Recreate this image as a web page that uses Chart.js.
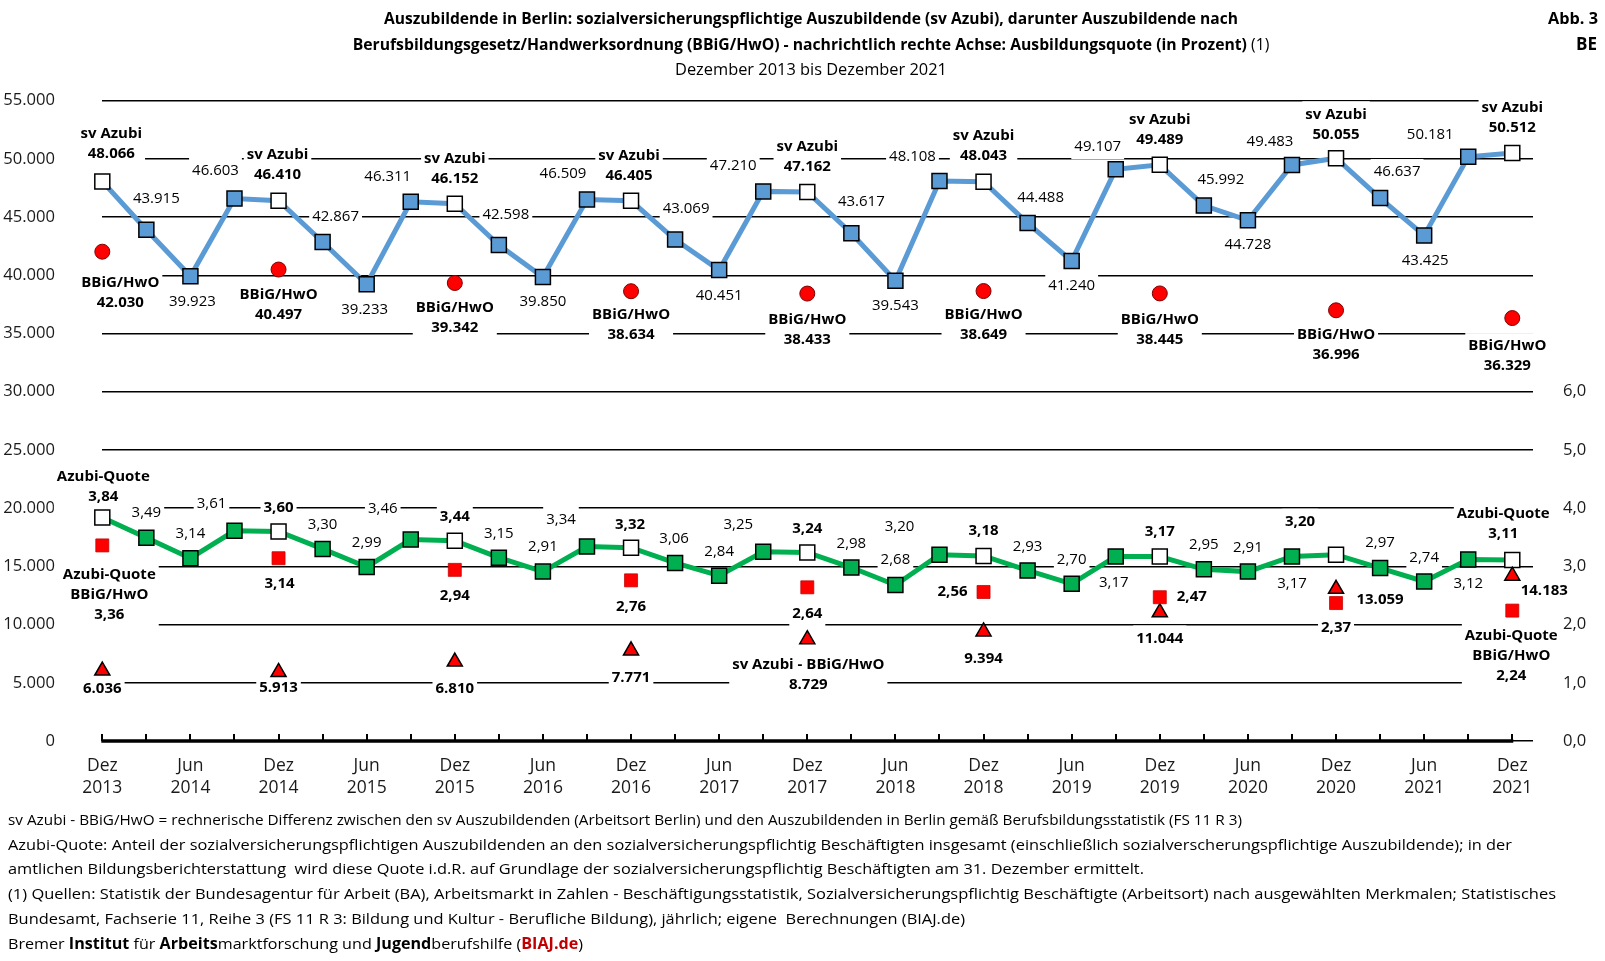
<!DOCTYPE html>
<html lang="de">
<head>
<meta charset="utf-8">
<title>Auszubildende in Berlin</title>
<script src="https://cdn.jsdelivr.net/npm/chart.js@4.4.1/dist/chart.umd.min.js"></script>
<style>
  html,body{margin:0;padding:0;background:#fff;}
  #wrap{position:relative;width:1605px;height:961px;overflow:hidden;font-family:"Open Sans",sans-serif;color:#000;}
  #c{position:absolute;left:0;top:0;}
  .fit{position:absolute;white-space:pre;line-height:24px;}
  .b{font-weight:700;}
</style>
</head>
<body>
<div id="wrap">
  <canvas id="c" width="1605" height="961"></canvas>

  <div class="fit b" data-fs="15" data-w="855" data-cx="811" data-cy="18.4">Auszubildende in Berlin: sozialversicherungspflichtige Auszubildende (sv Azubi), darunter Auszubildende nach</div>
  <div class="fit" data-fs="15" data-w="917" data-cx="811" data-cy="44"><b>Berufsbildungsgesetz/Handwerksordnung (BBiG/HwO) - nachrichtlich rechte Achse: Ausbildungsquote (in Prozent)</b> (1)</div>
  <div class="fit" data-fs="15" data-w="272" data-cx="811" data-cy="68.6">Dezember 2013 bis Dezember 2021</div>
  <div class="fit b" data-fs="15" data-w="50" data-rx="1598" data-cy="18.4">Abb. 3</div>
  <div class="fit b" data-fs="15" data-w="21" data-rx="1597" data-cy="44">BE</div>

  <div class="fit" data-fs="15.3" data-scale="1" data-w="1234" data-x="8" data-cy="819">sv Azubi - BBiG/HwO = rechnerische Differenz zwischen den sv Auszubildenden (Arbeitsort Berlin) und den Auszubildenden in Berlin gemäß Berufsbildungsstatistik (FS 11 R 3)</div>
  <div class="fit" data-fs="15.3" data-scale="1" data-w="1504" data-x="8" data-cy="843.5">Azubi-Quote: Anteil der sozialversicherungspflichtigen Auszubildenden an den sozialversicherungspflichtig Beschäftigten insgesamt (einschließlich sozialverscherungspflichtige Auszubildende); in der</div>
  <div class="fit" data-fs="15.3" data-scale="1" data-w="1136" data-x="8" data-cy="868">amtlichen Bildungsberichterstattung  wird diese Quote i.d.R. auf Grundlage der sozialversicherungspflichtig Beschäftigten am 31. Dezember ermittelt.</div>
  <div class="fit" data-fs="15.3" data-scale="1" data-w="1548" data-x="8" data-cy="893">(1) Quellen: Statistik der Bundesagentur für Arbeit (BA), Arbeitsmarkt in Zahlen - Beschäftigungsstatistik, Sozialversicherungspflichtig Beschäftigte (Arbeitsort) nach ausgewählten Merkmalen; Statistisches</div>
  <div class="fit" data-fs="15.3" data-scale="1" data-w="957" data-x="8" data-cy="918">Bundesamt, Fachserie 11, Reihe 3 (FS 11 R 3: Bildung und Kultur - Berufliche Bildung), jährlich; eigene  Berechnungen (BIAJ.de)</div>
  <div class="fit" data-fs="15.3" data-scale="1" data-w="575" data-x="8" data-cy="943">Bremer <b>Institut</b> für <b>Arbeits</b>marktforschung und <b>Jugend</b>berufshilfe (<b style="color:#C00000">BIAJ.de</b>)</div>
</div>

<script>
// ---------------- data ----------------
const quarters = ['Dez 2013','Mrz 2014','Jun 2014','Sep 2014','Dez 2014','Mrz 2015','Jun 2015','Sep 2015',
  'Dez 2015','Mrz 2016','Jun 2016','Sep 2016','Dez 2016','Mrz 2017','Jun 2017','Sep 2017',
  'Dez 2017','Mrz 2018','Jun 2018','Sep 2018','Dez 2018','Mrz 2019','Jun 2019','Sep 2019',
  'Dez 2019','Mrz 2020','Jun 2020','Sep 2020','Dez 2020','Mrz 2021','Jun 2021','Sep 2021','Dez 2021'];

const tickLabels = [['Dez','2013'],['Jun','2014'],['Dez','2014'],['Jun','2015'],['Dez','2015'],['Jun','2016'],
  ['Dez','2016'],['Jun','2017'],['Dez','2017'],['Jun','2018'],['Dez','2018'],['Jun','2019'],
  ['Dez','2019'],['Jun','2020'],['Dez','2020'],['Jun','2021'],['Dez','2021']];

// sozialversicherungspflichtige Auszubildende (quarterly)
const svAzubi = [48066,43915,39923,46603,46410,42867,39233,46311,46152,42598,39850,46509,46405,43069,40451,47210,
  47162,43617,39543,48108,48043,44488,41240,49107,49489,45992,44728,49483,50055,46637,43425,50181,50512];

// Azubi-Quote in % (quarterly, right axis)
const azubiQuote = [3.84,3.49,3.14,3.61,3.60,3.30,2.99,3.46,3.44,3.15,2.91,3.34,3.32,3.06,2.84,3.25,
  3.24,2.98,2.68,3.20,3.18,2.93,2.70,3.17,3.17,2.95,2.91,3.17,3.20,2.97,2.74,3.12,3.11];

// December values only (Dez 2013 ... Dez 2021)
const bbigDez = [42030,40497,39342,38634,38433,38649,38445,36996,36329];
const quoteBbigDez = [3.36,3.14,2.94,2.76,2.64,2.56,2.47,2.37,2.24];
const diffDez = [6036,5913,6810,7771,8729,9394,11044,13059,14183];

// ---------------- label placement (offset of value line from marker, px) ----------------
const svLabelPos = [[9,-28],[10,-31],[2,26],[-19,-28],[-1,-26],[13,-25],[-2,25],[-23,-25],
  [0,-25],[7,-30],[0,25],[-24,-26],[-2,-25],[11,-31],[0,26],[-30,-26],
  [0,-25],[10,-31],[0,25],[-27,-24],[0,-26],[13,-25],[0,25],[-18,-23],
  [0,-25],[17,-26],[0,24],[-22,-23],[0,-24],[17,-26],[1,25],[-38,-22],[0,-25]];
const quoteLabelPos = [[1,-21],[0,-25],[0,-24],[-23,-27],[0,-24],[0,-24],[0,-24],[-28,-31],
  [0,-24],[0,-24],[0,-25],[-26,-27],[-1,-23],[-1,-24],[0,-24],[-25,-27],
  [0,-24],[0,-24],[0,-25],[-40,-28],[0,-25],[0,-24],[0,-24],[-2,26],
  [0,-25],[0,-25],[0,-24],[0,27],[-36,-33],[0,-25],[0,-24],[0,24],[-9,-26]];
const bbigLabelPos = [[18,51],[0,45],[0,45],[0,44],[0,46],[0,44],[0,46],[0,44],[-5,48]];
const quoteBbigLabelPos = [[7,69],[1,26],[0,26],[0,26],[0,26],[-31,0],[32,0],[0,25],[-1,65]];
const diffLabelPos = [[0,18],[0,16],[0,27],[0,27],[1,45],[0,27],[0,26],[44,11],[32,15]];

// ---------------- helpers ----------------
const fmtInt = v => String(v).replace(/\B(?=(\d{3})+(?!\d))/g, '.');
const fmtPct = v => v.toFixed(2).replace('.', ',');
const quarterly = arr => arr.map((v, i) => ({x: i, y: v}));
const decOnly = arr => arr.map((v, k) => ({x: k * 4, y: v}));
const isDec = i => i % 4 === 0;

const LABEL_SIZE = 15, LINE_GAP = 20, PADX = 3, PADY = 4;

const pointLabelPlugin = {
  id: 'pointLabels',
  beforeDatasetsDraw(chart) {
    const ctx = chart.ctx;
    ctx.save();
    ctx.textAlign = 'center';
    ctx.textBaseline = 'middle';
    chart.data.datasets.forEach((ds, di) => {
      const L = ds.pointLabels;
      if (!L) return;
      const meta = chart.getDatasetMeta(di);
      meta.data.forEach((pt, i) => {
        const [dx, dy] = L.pos[i];
        const lines = L.titles(i).concat([L.format(ds.data[i].y)]);
        ctx.font = (L.bold(i) ? '700 ' : '400 ') + LABEL_SIZE + 'px "Open Sans"';
        const cx = pt.x + dx, vy = pt.y + dy;
        const firstY = vy - (lines.length - 1) * LINE_GAP;
        let w = 0;
        lines.forEach(t => { w = Math.max(w, ctx.measureText(t).width); });
        ctx.fillStyle = '#fff';
        ctx.fillRect(cx - w / 2 - PADX, firstY - 9 - PADY, w + 2 * PADX, (lines.length - 1) * LINE_GAP + 18 + 2 * PADY);
        ctx.fillStyle = '#000';
        lines.forEach((t, j) => ctx.fillText(t, cx, firstY + j * LINE_GAP));
      });
    });
    ctx.restore();
  }
};

const axisLinePlugin = {
  id: 'axisLine',
  beforeDatasetsDraw(chart) {
    const xs = chart.scales.x, ys = chart.scales.y, ctx = chart.ctx;
    const y0 = ys.getPixelForValue(0);
    ctx.save();
    ctx.strokeStyle = '#000';
    ctx.lineWidth = 3.5;
    ctx.beginPath();
    ctx.moveTo(xs.getPixelForValue(0) - 1, y0);
    ctx.lineTo(xs.getPixelForValue(quarters.length - 1) + 1, y0);
    ctx.stroke();
    ctx.restore();
  }
};

Chart.defaults.font.family = '"Open Sans", sans-serif';
Chart.defaults.color = '#1a1a1a';

new Chart(document.getElementById('c'), {
  type: 'line',
  data: {
    datasets: [
      {
        label: 'sv Azubi',
        data: quarterly(svAzubi),
        yAxisID: 'y',
        borderColor: '#5B9BD5',
        borderWidth: 5,
        pointStyle: 'rect',
        pointRadius: 10.6,
        pointBackgroundColor: svAzubi.map((v, i) => isDec(i) ? '#FFFFFF' : '#5B9BD5'),
        pointBorderColor: '#000',
        pointBorderWidth: 1.5,
        clip: false,
        order: 2,
        pointLabels: { pos: svLabelPos, format: fmtInt, bold: isDec, titles: i => isDec(i) ? ['sv Azubi'] : [] }
      },
      {
        label: 'Azubi-Quote',
        data: quarterly(azubiQuote),
        yAxisID: 'y2',
        borderColor: '#00B050',
        borderWidth: 5,
        pointStyle: 'rect',
        pointRadius: 10.6,
        pointBackgroundColor: azubiQuote.map((v, i) => isDec(i) ? '#FFFFFF' : '#00B050'),
        pointBorderColor: '#000',
        pointBorderWidth: 1.5,
        clip: false,
        order: 2,
        pointLabels: { pos: quoteLabelPos, format: fmtPct, bold: isDec,
          titles: i => (i === 0 || i === azubiQuote.length - 1) ? ['Azubi-Quote'] : [] }
      },
      {
        label: 'BBiG/HwO',
        data: decOnly(bbigDez),
        yAxisID: 'y',
        showLine: false,
        pointStyle: 'circle',
        pointRadius: 7.5,
        pointBackgroundColor: '#FF0000',
        pointBorderColor: '#7A0000',
        pointBorderWidth: 1,
        clip: false,
        order: 1,
        pointLabels: { pos: bbigLabelPos, format: fmtInt, bold: () => true, titles: () => ['BBiG/HwO'] }
      },
      {
        label: 'Azubi-Quote BBiG/HwO',
        data: decOnly(quoteBbigDez),
        yAxisID: 'y2',
        showLine: false,
        pointStyle: 'rect',
        pointRadius: 9.2,
        pointBackgroundColor: '#FF0000',
        pointBorderColor: '#C00000',
        pointBorderWidth: 0.75,
        clip: false,
        order: 1,
        pointLabels: { pos: quoteBbigLabelPos, format: fmtPct, bold: () => true,
          titles: k => (k === 0 || k === quoteBbigDez.length - 1) ? ['Azubi-Quote', 'BBiG/HwO'] : [] }
      },
      {
        label: 'sv Azubi - BBiG/HwO',
        data: decOnly(diffDez),
        yAxisID: 'y',
        showLine: false,
        pointStyle: 'triangle',
        pointRadius: 8.7,
        pointBackgroundColor: '#FF0000',
        pointBorderColor: '#000',
        pointBorderWidth: 1.5,
        clip: false,
        order: 1,
        pointLabels: { pos: diffLabelPos, format: fmtInt, bold: () => true,
          titles: k => k === 4 ? ['sv Azubi - BBiG/HwO'] : [] }
      }
    ]
  },
  options: {
    responsive: false,
    animation: false,
    events: [],
    layout: { padding: { top: 100.7, left: 0, right: 0, bottom: 0 } },
    plugins: { legend: { display: false }, tooltip: { enabled: false }, title: { display: false } },
    scales: {
      x: {
        type: 'linear',
        min: 0,
        max: 32.47,
        border: { display: false },
        grid: { display: true, drawOnChartArea: false, drawTicks: true, tickLength: -7, color: '#000', lineWidth: 2 },
        ticks: {
          stepSize: 1,
          autoSkip: false,
          includeBounds: false,
          maxRotation: 0,
          minRotation: 0,
          padding: 20.4,
          color: '#1a1a1a',
          font: { size: 17.5, lineHeight: 1.2857 },
          callback: v => (v % 2 === 0 && tickLabels[v / 2]) ? tickLabels[v / 2] : ''
        },
        afterFit: s => { s.height = 220; }
      },
      y: {
        position: 'left',
        min: 0,
        max: 55000,
        border: { display: false },
        grid: { color: '#000', lineWidth: 1.6, drawTicks: false },
        ticks: { stepSize: 5000, padding: 47.3, color: '#1a1a1a', font: { size: 16.6 }, callback: v => fmtInt(v) },
        afterFit: s => { s.width = 102.3; }
      },
      y2: {
        position: 'right',
        min: 0,
        max: 11,
        border: { display: false },
        grid: { display: false, drawTicks: false },
        ticks: { stepSize: 1, padding: 30, color: '#1a1a1a', font: { size: 16.6 },
          callback: v => v <= 6 ? v.toFixed(1).replace('.', ',') : '' },
        afterFit: s => { s.width = 72; }
      }
    }
  },
  plugins: [axisLinePlugin, pointLabelPlugin]
});

// ---------------- fit HTML text lines to the reference extents ----------------
function fitAll() {
  document.querySelectorAll('.fit').forEach(el => {
    const fs = +el.dataset.fs;
    const tw = +el.dataset.w;
    el.style.transform = 'none';
    el.style.fontSize = fs + 'px';
    const w0 = el.getBoundingClientRect().width;
    let w = w0;
    if (el.dataset.scale) {
      // keep the common font size, stretch horizontally to the measured extent
      el.style.transformOrigin = '0 50%';
      if (tw && w0) el.style.transform = 'scaleX(' + (tw / w0) + ')';
      w = tw || w0;
    } else {
      el.style.fontSize = (tw && w0 ? fs * tw / w0 : fs) + 'px';
      w = el.getBoundingClientRect().width;
    }
    el.style.top = (+el.dataset.cy - 12) + 'px';
    if (el.dataset.cx) el.style.left = (+el.dataset.cx - w / 2) + 'px';
    else if (el.dataset.rx) el.style.left = (+el.dataset.rx - w) + 'px';
    else el.style.left = el.dataset.x + 'px';
  });
}
fitAll();
if (document.fonts && document.fonts.ready) document.fonts.ready.then(fitAll);
</script>
</body>
</html>
